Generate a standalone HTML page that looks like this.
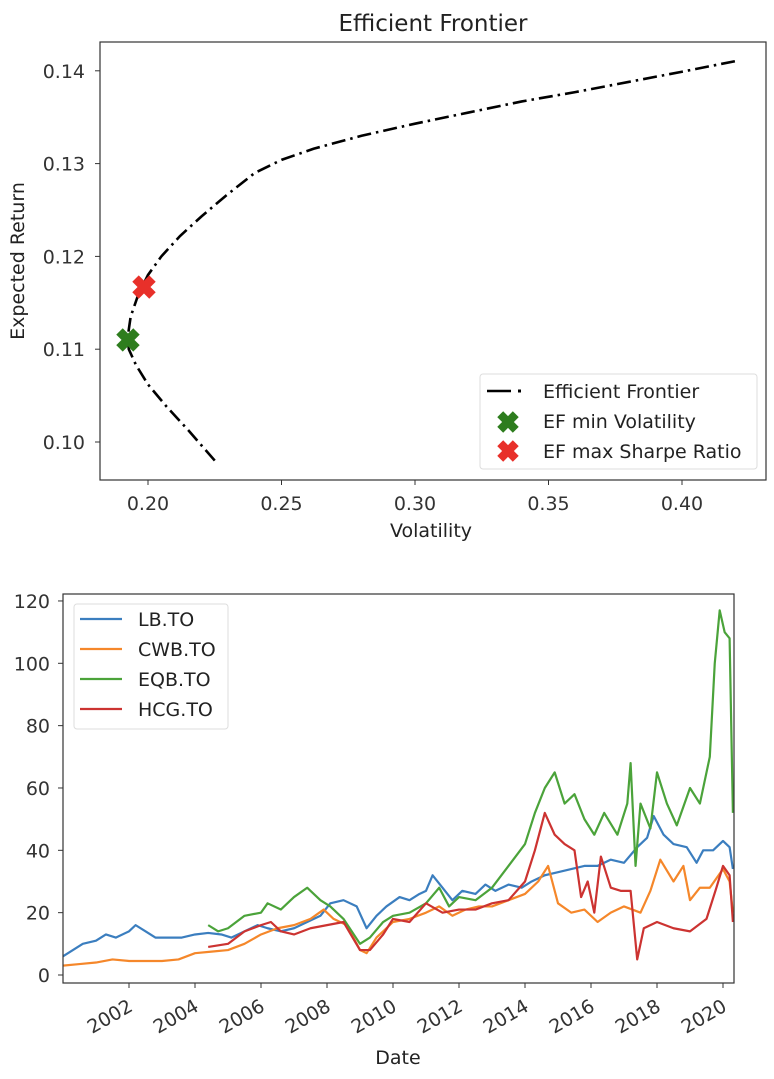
<!DOCTYPE html>
<html><head><meta charset="utf-8"><style>
html,body{margin:0;padding:0;background:#fff;}
svg{display:block;font-family:"DejaVu Sans","Liberation Sans",sans-serif;}
</style></head><body>
<svg id="c" width="774" height="1079" viewBox="0 0 774 1079"></svg>
<script>
// ---- Efficient frontier data ----
const efVol = [0.225,0.215,0.207,0.200,0.1955,0.1928,0.1925,0.1935,0.1965,0.200,0.205,0.212,0.220,0.229,0.240,0.250,0.262,0.280,0.300,0.320,0.340,0.360,0.380,0.400,0.421];
const efRet = [0.098,0.1013,0.1038,0.1062,0.1083,0.1100,0.1115,0.1135,0.1160,0.1180,0.1200,0.1222,0.1243,0.1265,0.1290,0.1304,0.1316,0.1330,0.1343,0.1355,0.1367,0.1377,0.1388,0.1399,0.1411];
const minVolPt = [0.1925, 0.1110];
const maxSharpePt = [0.1985, 0.1167];
const efXTicks = [0.20,0.25,0.30,0.35,0.40];
const efYTicks = [0.10,0.11,0.12,0.13,0.14];

// ---- Price history data (year, value) ----
const lbYears = [2000.0,2000.3,2000.6,2001.0,2001.3,2001.6,2002.0,2002.2,2002.5,2002.8,2003.2,2003.6,2004.0,2004.4,2004.8,2005.1,2005.5,2005.9,2006.2,2006.6,2007.0,2007.4,2007.8,2008.1,2008.5,2008.9,2009.2,2009.5,2009.8,2010.2,2010.5,2010.8,2011.0,2011.2,2011.5,2011.8,2012.1,2012.5,2012.8,2013.1,2013.5,2013.9,2014.2,2014.6,2015.0,2015.4,2015.8,2016.2,2016.6,2017.0,2017.4,2017.7,2017.9,2018.2,2018.5,2018.9,2019.2,2019.4,2019.7,2020.0,2020.2,2020.3];
const lbVals  = [6,8,10,11,13,12,14,16,14,12,12,12,13,13.5,13,12,14,16,15,14,15,17,19,23,24,22,15,19,22,25,24,26,27,32,28,24,27,26,29,27,29,28,30,32,33,34,35,35,37,36,41,44,51,45,42,41,36,40,40,43,41,34];
const cwbYears = [2000.0,2000.5,2001.0,2001.5,2002.0,2002.5,2003.0,2003.5,2004.0,2004.5,2005.0,2005.5,2006.0,2006.5,2007.0,2007.5,2007.9,2008.2,2008.6,2009.0,2009.2,2009.5,2010.0,2010.5,2011.0,2011.4,2011.8,2012.2,2012.6,2013.0,2013.5,2014.0,2014.4,2014.7,2015.0,2015.4,2015.8,2016.2,2016.6,2017.0,2017.5,2017.8,2018.1,2018.5,2018.8,2019.0,2019.3,2019.6,2020.0,2020.2,2020.3];
const cwbVals  = [3,3.5,4,5,4.5,4.5,4.5,5,7,7.5,8,10,13,15,16,18,21,18,16,8,7,12,17,18,20,22,19,21,22,22,24,26,30,35,23,20,21,17,20,22,20,27,37,30,35,24,28,28,34,30,20];
const eqbYears = [2004.4,2004.7,2005.0,2005.5,2006.0,2006.2,2006.6,2007.0,2007.4,2007.8,2008.1,2008.5,2009.0,2009.3,2009.7,2010.0,2010.5,2011.0,2011.4,2011.7,2012.0,2012.5,2013.0,2013.5,2014.0,2014.3,2014.6,2014.9,2015.2,2015.5,2015.8,2016.1,2016.4,2016.8,2017.1,2017.2,2017.35,2017.5,2017.8,2018.0,2018.3,2018.6,2019.0,2019.3,2019.6,2019.75,2019.9,2020.05,2020.2,2020.3];
const eqbVals  = [16,14,15,19,20,23,21,25,28,24,22,18,10,12,17,19,20,23,28,22,25,24,28,35,42,52,60,65,55,58,50,45,52,45,55,68,35,55,47,65,55,48,60,55,70,100,117,110,108,52];
const hcgYears = [2004.4,2005.0,2005.5,2006.0,2006.3,2006.6,2007.0,2007.5,2008.0,2008.5,2009.0,2009.3,2009.7,2010.0,2010.5,2011.0,2011.5,2012.0,2012.5,2013.0,2013.5,2014.0,2014.3,2014.6,2014.9,2015.2,2015.5,2015.7,2015.9,2016.1,2016.3,2016.6,2016.9,2017.2,2017.4,2017.6,2018.0,2018.5,2019.0,2019.5,2019.8,2020.0,2020.2,2020.3];
const hcgVals  = [9,10,14,16,17,14,13,15,16,17,8,8,13,18,17,23,20,21,21,23,24,30,40,52,45,42,40,25,30,20,38,28,27,27,5,15,17,15,14,18,28,35,32,17];
const pxYTicks = [0,20,40,60,80,100,120];
const pxXTicks = [2002,2004,2006,2008,2010,2012,2014,2016,2018,2020];

const NS="http://www.w3.org/2000/svg";
const svg=document.getElementById('c');
const FS='19';
function mk(tag,attrs,parent){const e=document.createElementNS(NS,tag);for(const k in attrs)e.setAttribute(k,attrs[k]);(parent||svg).appendChild(e);return e;}
function txt(s,attrs,parent){const e=mk('text',attrs,parent);e.textContent=s;return e;}

// ===== Top chart =====
const T={l:100,r:766,t:42,b:480};
const ex=v=>148+(v-0.20)/0.05*133.5;
const ey=v=>442-(v-0.10)/0.01*92.8;
const g1=mk('g',{});


const t1=txt('Efficient Frontier',{x:(T.l+T.r)/2,y:31,'text-anchor':'middle','font-size':'23',fill:'#222'},g1);


efXTicks.forEach(v=>{const x=ex(v);mk('line',{x1:x,x2:x,y1:T.b,y2:T.b+5,stroke:'#333','stroke-width':1},g1);
 const l=txt(v.toFixed(2),{x:x,y:T.b+30,'text-anchor':'middle','font-size':FS,fill:'#333'},g1);
 
 });
efYTicks.forEach(v=>{const y=ey(v);mk('line',{x1:T.l-5,x2:T.l,y1:y,y2:y,stroke:'#333','stroke-width':1},g1);
 const l=txt(v.toFixed(2),{x:T.l-15,y:y+7,'text-anchor':'end','font-size':FS,fill:'#333'},g1);
 
 });
const xt1=txt('Volatility',{x:(T.l+T.r)/2-2,y:537,'text-anchor':'middle','font-size':FS,fill:'#222'},g1);


const yt1=txt('Expected Return',{x:0,y:0,transform:'translate(24,'+((T.t+T.b)/2)+') rotate(-90)','text-anchor':'middle','font-size':FS,fill:'#222'},g1);


const fl=mk('polyline',{points:efVol.map((v,i)=>ex(v)+','+ey(efRet[i])).join(' '),fill:'none',stroke:'#000','stroke-width':2.6,'stroke-dasharray':'14,5,2.5,5'},g1);


function xMarker(cx,cy,color,name,parent,s){
 s=s||12;
 const g=mk('g',{transform:'translate('+cx+','+cy+') rotate(45)'},parent);
 
 
 mk('rect',{x:-s,y:-s*0.38,width:2*s,height:s*0.76,fill:color},g);
 mk('rect',{x:-s*0.38,y:-s,width:s*0.76,height:2*s,fill:color},g);
 return g;}
xMarker(ex(minVolPt[0]),ey(minVolPt[1]),'#2e7d1e','min-volatility-marker',g1);
xMarker(ex(maxSharpePt[0]),ey(maxSharpePt[1]),'#e8302a','max-sharpe-marker',g1);
mk('rect',{x:T.l,y:T.t,width:T.r-T.l,height:T.b-T.t,fill:'none',stroke:'#333','stroke-width':1.2},g1);
// legend
const lg1=mk('g',{},g1);


mk('rect',{x:480,y:374,width:277,height:95,rx:3,fill:'#fff','fill-opacity':0.8,stroke:'#ddd'},lg1);
mk('line',{x1:487,x2:511,y1:391,y2:391,stroke:'#000','stroke-width':2.6},lg1);
mk('rect',{x:518,y:389.5,width:3,height:3,fill:'#000'},lg1);
xMarker(508,422,'#2e7d1e','legend-min-volatility-marker',lg1,11);
xMarker(508,451,'#e8302a','legend-max-sharpe-marker',lg1,11);
[['Efficient Frontier',398],['EF min Volatility',428],['EF max Sharpe Ratio',458]].forEach(a=>{
 const l=txt(a[0],{x:543,y:a[1],'font-size':FS,fill:'#222'},lg1);
 
 });

// ===== Bottom chart =====
const B={l:63,r:734,t:594,b:983};
const px=y=>129+(y-2002)*33;
const py=v=>975-v*3.117;
const g2=mk('g',{});


pxYTicks.forEach(v=>{const y=py(v);mk('line',{x1:B.l-5,x2:B.l,y1:y,y2:y,stroke:'#333','stroke-width':1},g2);
 const l=txt(String(v),{x:B.l-13,y:y+7,'text-anchor':'end','font-size':FS,fill:'#333'},g2);
 
 });
pxXTicks.forEach(v=>{const x=px(v);mk('line',{x1:x,x2:x,y1:B.b,y2:B.b+5,stroke:'#333','stroke-width':1},g2);
 const l=txt(String(v),{x:0,y:0,transform:'translate('+(x+5)+','+(B.b+27)+') rotate(-30)','text-anchor':'end','font-size':FS,fill:'#333'},g2);
 
 });
const xt2=txt('Date',{x:398,y:1064,'text-anchor':'middle','font-size':FS,fill:'#222'},g2);


const series=[['lb-to-line',lbYears,lbVals,'#3b7ebf'],['cwb-to-line',cwbYears,cwbVals,'#f5872a'],['eqb-to-line',eqbYears,eqbVals,'#4ba33a'],['hcg-to-line',hcgYears,hcgVals,'#cc3331']];
series.forEach(s=>{
 const p=mk('polyline',{points:s[1].map((yr,i)=>px(yr)+','+py(s[2][i])).join(' '),fill:'none',stroke:s[3],'stroke-width':2.2,'stroke-linejoin':'round'},g2);
 
 });
mk('rect',{x:B.l,y:B.t,width:B.r-B.l,height:B.b-B.t,fill:'none',stroke:'#333','stroke-width':1.2},g2);
const lg2=mk('g',{},g2);


mk('rect',{x:74,y:604,width:154,height:125,rx:3,fill:'#fff','fill-opacity':0.8,stroke:'#ddd'},lg2);
[['LB.TO','#3b7ebf',619],['CWB.TO','#f5872a',649],['EQB.TO','#4ba33a',679],['HCG.TO','#cc3331',709]].forEach(a=>{
 mk('line',{x1:80,x2:122,y1:a[2],y2:a[2],stroke:a[1],'stroke-width':2.2},lg2);
 const l=txt(a[0],{x:138,y:a[2]+7,'font-size':FS,fill:'#222'},lg2);
 
 });
</script>
</body></html>
